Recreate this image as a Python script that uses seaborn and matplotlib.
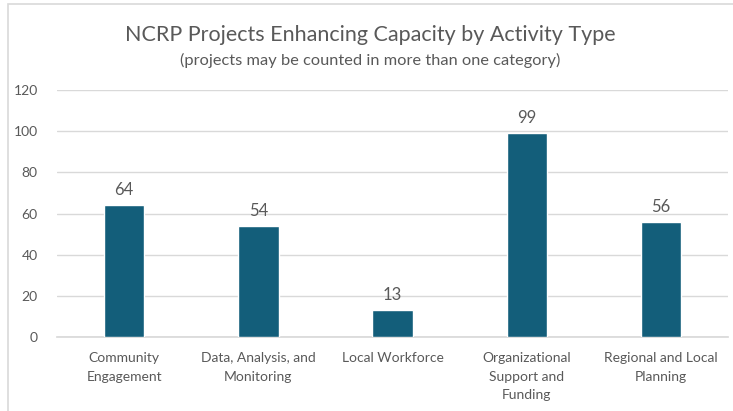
import matplotlib
matplotlib.use("Agg")
import matplotlib.pyplot as plt
import seaborn as sns
import pandas as pd
from matplotlib.patches import Rectangle

categories = ["Community\nEngagement", "Data, Analysis, and\nMonitoring", "Local Workforce",
              "Organizational\nSupport and\nFunding", "Regional and Local\nPlanning"]
projects = [64, 54, 13, 99, 56]
yticks = [0, 20, 40, 60, 80, 100, 120]

df = pd.DataFrame({"Activity": categories, "Projects": projects})

sns.set_theme(style="white")
plt.rcParams["font.family"] = ["Lato", "DejaVu Sans"]
grey = "#595959"

fig = plt.figure(figsize=(7.33, 4.11), dpi=100)
ax = fig.add_axes([0.078, 0.18, 0.915, 0.601])
sns.barplot(data=df, x="Activity", y="Projects", color="#135E7A", width=0.3,
            saturation=1, ax=ax, zorder=3)

ax.set_ylim(0, 120)
ax.set_yticks(yticks)
ax.grid(axis="y", color="#D9D9D9", linewidth=1, zorder=0)
for s in ["top", "right", "left"]:
    ax.spines[s].set_visible(False)
ax.spines["bottom"].set_color("#D9D9D9")
ax.tick_params(axis="both", length=0, colors=grey, labelsize=10)
ax.tick_params(axis="x", pad=11)
ax.tick_params(axis="y", pad=14)
for lbl in ax.get_xticklabels():
    lbl.set_linespacing(1.65)
ax.set_xlabel("")
ax.set_ylabel("")

for c in ax.containers:
    ax.bar_label(c, padding=5, color=grey, fontsize=12)

fig.text(0.505, 0.915, "NCRP Projects Enhancing Capacity by Activity Type",
         ha="center", va="center", fontsize=15.5, color=grey)
fig.text(0.505, 0.853, "(projects may be counted in more than one category)",
         ha="center", va="center", fontsize=11.8, color=grey)

fig.patches.append(Rectangle((8 / 733, -0.1), 1.2, 1.1 - 4 / 411, transform=fig.transFigure,
                             fill=False, edgecolor="#D9D9D9", linewidth=1.2))

fig.savefig("out.png", dpi=100)
